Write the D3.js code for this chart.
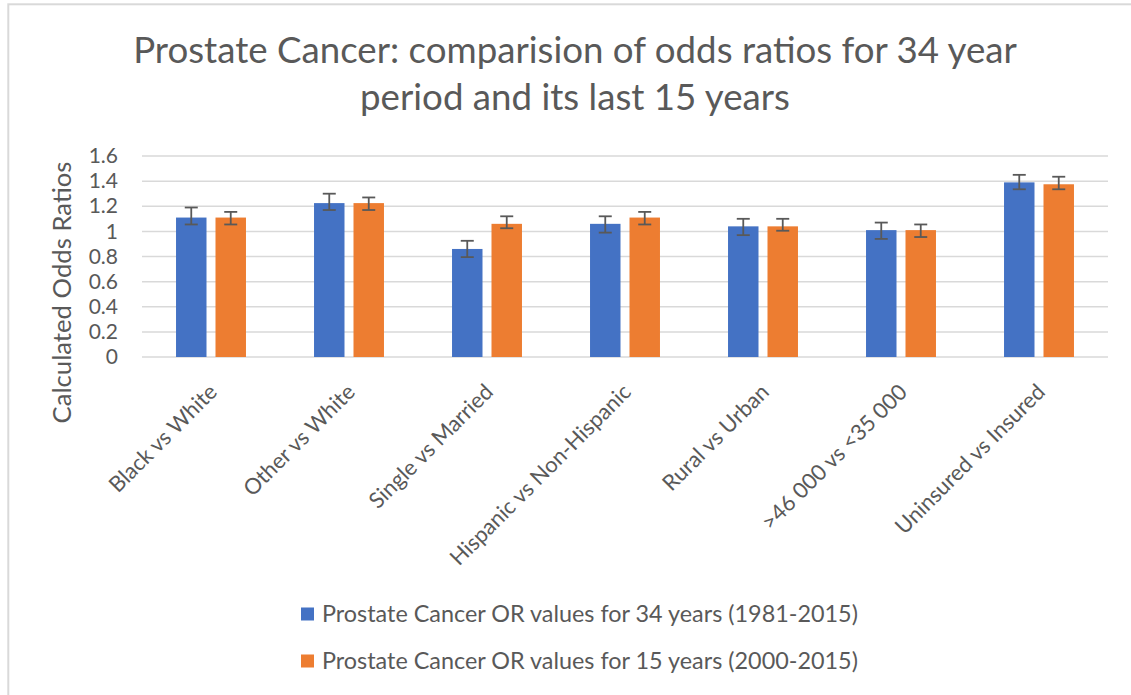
<!DOCTYPE html>
<html>
<head>
<meta charset="utf-8">
<script src="https://cdn.jsdelivr.net/npm/d3@7"></script>
<style>
  html, body { margin: 0; padding: 0; background: #fff; }
  svg { display: block; }
  text { font-family: "Lato", "Open Sans", sans-serif; fill: #595959; }
</style>
</head>
<body>
<svg id="chart" width="1131" height="695"></svg>
<script>
// ---- data ----
const categories = ["Black vs White", "Other vs White", "Single vs Married", "Hispanic vs Non-Hispanic", "Rural vs Urban", ">46 000 vs <35 000", "Uninsured vs Insured"];
const seriesNames = ["Prostate Cancer OR values for 34 years (1981-2015)", "Prostate Cancer OR values for 15 years (2000-2015)"];
const or34 = [1.11, 1.225, 0.86, 1.06, 1.04, 1.01, 1.39];
const or34Upper = [1.19, 1.30, 0.925, 1.12, 1.10, 1.07, 1.45];
const or34Lower = [1.055, 1.17, 0.795, 0.99, 0.97, 0.94, 1.335];
const or15 = [1.11, 1.225, 1.06, 1.11, 1.04, 1.01, 1.375];
const or15Upper = [1.155, 1.27, 1.12, 1.155, 1.10, 1.055, 1.435];
const or15Lower = [1.055, 1.17, 1.025, 1.055, 1.005, 0.955, 1.335];
const yTicks = [0, 0.2, 0.4, 0.6, 0.8, 1, 1.2, 1.4, 1.6];
const titleLines = ["Prostate Cancer: comparision of odds ratios for 34 year", "period and its last 15 years"];
const yTitle = "Calculated Odds Ratios";
const colors = ["#4472C4", "#ED7D31"];

const series = [
  { name: seriesNames[0], values: or34, upper: or34Upper, lower: or34Lower },
  { name: seriesNames[1], values: or15, upper: or15Upper, lower: or15Lower }
];

const svg = d3.select("#chart");

// border
svg.append("rect").attr("x", 8.3).attr("y", 4.3).attr("width", 1300).attr("height", 900)
  .attr("fill", "#fff").attr("stroke", "#d9d9d9").attr("stroke-width", 2);

function fit(sel, target) {
  const node = sel.node();
  const base = parseFloat(sel.attr("font-size"));
  const len = node.getComputedTextLength();
  if (len > 0) sel.attr("font-size", (base * target / len).toFixed(2));
  return sel;
}

// scales
const x0 = d3.scaleBand().domain(categories).range([142, 1108]).paddingInner(0).paddingOuter(0);
const x1 = d3.scaleBand().domain([0, 1]).range([0, x0.bandwidth()]).paddingInner(0.228).paddingOuter(0.862);
const y = d3.scaleLinear().domain([0, 1.6]).range([357, 156]);

// gridlines
svg.append("g").selectAll("line").data(yTicks).join("line")
  .attr("x1", 142).attr("x2", 1108)
  .attr("y1", d => y(d)).attr("y2", d => y(d))
  .attr("stroke", "#d9d9d9").attr("stroke-width", 1.5);

// y axis labels via d3 axis
const yAxis = svg.append("g").attr("transform", "translate(118,0)")
  .call(d3.axisLeft(y).tickValues(yTicks).tickSize(0).tickPadding(0).tickFormat(d3.format("")));
yAxis.select(".domain").remove();
yAxis.selectAll("text").attr("font-size", 21).attr("fill", "#595959")
  .style("font-family", '"Lato", "Open Sans", sans-serif');

// bars
const groups = svg.append("g").selectAll("g").data(series).join("g")
  .attr("fill", (d, i) => colors[i]);
groups.each(function (s, si) {
  d3.select(this).selectAll("rect").data(categories).join("rect")
    .attr("x", c => x0(c) + x1(si))
    .attr("width", x1.bandwidth())
    .attr("y", (c, ci) => y(s.values[ci]))
    .attr("height", (c, ci) => y(0) - y(s.values[ci]));
});

// error bars
const capW = 13;
series.forEach((s, si) => {
  const g = svg.append("g").attr("stroke", "#595959").attr("stroke-width", 1.8);
  categories.forEach((c, ci) => {
    const cx = x0(c) + x1(si) + x1.bandwidth() / 2;
    g.append("line").attr("x1", cx).attr("x2", cx).attr("y1", y(s.upper[ci])).attr("y2", y(s.lower[ci]));
    g.append("line").attr("x1", cx - capW / 2).attr("x2", cx + capW / 2).attr("y1", y(s.upper[ci])).attr("y2", y(s.upper[ci]));
    g.append("line").attr("x1", cx - capW / 2).attr("x2", cx + capW / 2).attr("y1", y(s.lower[ci])).attr("y2", y(s.lower[ci]));
  });
});

// x labels
const xl = svg.append("g").selectAll("text").data(categories).join("text")
  .attr("transform", c => `translate(${x0(c) + x0.bandwidth() / 2 + 2},388) rotate(-45)`)
  .attr("text-anchor", "end").attr("dy", "0.35em")
  .attr("font-size", 21)
  .text(c => c);
// size from first label
{
  const first = xl.filter((d, i) => i === 0);
  const len = first.node().getComputedTextLength();
  const fs = 21 * 142 / len;
  xl.attr("font-size", fs.toFixed(2));
}

// y title
const yt = svg.append("text")
  .attr("transform", "translate(62,292.5) rotate(-90)")
  .attr("text-anchor", "middle").attr("dy", "0.35em")
  .attr("font-size", 22).text(yTitle);
fit(yt, 262);

// title
const t1 = svg.append("text").attr("x", 575).attr("y", 63).attr("text-anchor", "middle")
  .attr("font-size", 34).text(titleLines[0]);
fit(t1, 884);
const t2 = svg.append("text").attr("x", 575).attr("y", 110).attr("text-anchor", "middle")
  .attr("font-size", t1.attr("font-size")).text(titleLines[1]);

// legend
const leg = svg.append("g").selectAll("g").data(seriesNames).join("g")
  .attr("transform", (d, i) => `translate(301,${614 + i * 47})`);
leg.append("rect").attr("x", 0).attr("y", -6.5).attr("width", 13).attr("height", 13)
  .attr("fill", (d, i) => colors[i]);
const legText = leg.append("text").attr("x", 21).attr("dy", "0.35em").attr("font-size", 19).text(d => d);
{
  const len = legText.filter((d, i) => i === 0).node().getComputedTextLength();
  legText.attr("font-size", (19 * 536 / len).toFixed(2));
}
</script>
</body>
</html>
